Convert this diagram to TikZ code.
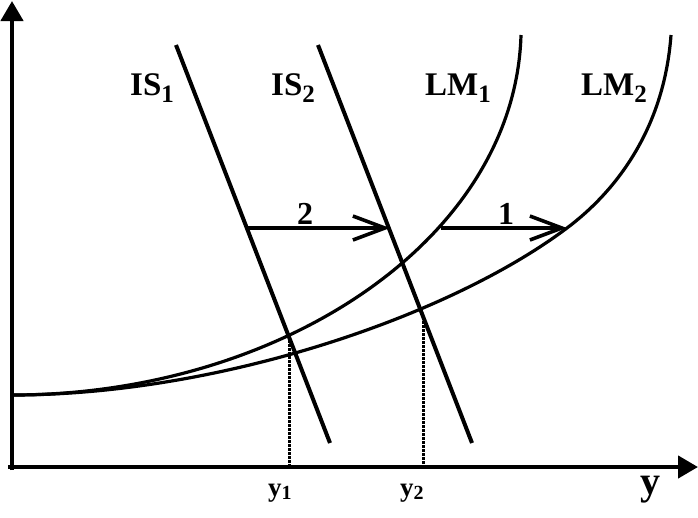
\documentclass[tikz,border=0pt]{standalone}
\usepackage{fontspec}
\setmainfont{Liberation Serif}
\usetikzlibrary{arrows.meta}
\newcommand{\lsub}[1]{\raisebox{-7pt}{\fontsize{25}{25}\selectfont #1}}
\newcommand{\ysub}[1]{\raisebox{-3pt}{\fontsize{20}{20}\selectfont #1}}
\begin{document}
\begin{tikzpicture}[x=1pt,y=-1pt,
  axis/.style={line width=4.4pt,-{Triangle[length=20pt,width=22pt]}},
  curve/.style={line width=3.2pt},
  isline/.style={line width=4pt},
  shiftarrow/.style={line width=3.2pt,-{Straight Barb[length=32pt,width=24pt,line width=3.6pt]}},
  drop/.style={line width=3pt,dash pattern=on 2.5pt off 1.5pt},
  lab/.style={inner sep=0pt,anchor=base west,font=\bfseries\fontsize{33}{33}\selectfont},
  num/.style={inner sep=0pt,anchor=base,font=\bfseries\fontsize{32}{32}\selectfont},
  ylab/.style={inner sep=0pt,anchor=base west,font=\bfseries\fontsize{27}{27}\selectfont},
]
\useasboundingbox (0,0) rectangle (698,517);
% axes
\coordinate (Ytop) at (12,1);
\coordinate (Ybot) at (12,470);
\coordinate (Xbeg) at (8,467);
\coordinate (Xend) at (698,467);
\draw[axis] (Ybot) -- (Ytop);
\draw[axis] (Xbeg) -- (Xend);
% LM curves
\coordinate (L0) at (12,395);
\coordinate (L1top) at (521,35);
\coordinate (L2mid) at (567,228);
\coordinate (L2top) at (671,35);
\draw[curve] (L0) .. controls (280,395) and (515,240) .. (L1top);
\draw[curve] (L0) .. controls (220,395) and (450,316) .. (L2mid)
                  .. controls (615,192) and (664,130) .. (L2top);
% IS lines
\coordinate (IS1a) at (176,45);
\coordinate (IS1b) at (330,443);
\coordinate (IS2a) at (318,45);
\coordinate (IS2b) at (472,443);
\draw[isline] (IS1a) -- (IS1b);
\draw[isline] (IS2a) -- (IS2b);
% shift arrows
\coordinate (A2s) at (247,228);
\coordinate (A2e) at (390,228);
\coordinate (A1s) at (441,228);
\coordinate (A1e) at (567,228);
\draw[shiftarrow] (A2s) -- (A2e);
\draw[shiftarrow] (A1s) -- (A1e);
\node[num] (n2) at (305,224) {2};
\node[num] (n1) at (506,224) {1};
% equilibria and drops
\coordinate (E1) at (289,336);
\coordinate (E2) at (423,317);
\coordinate (F1) at (289,467);
\coordinate (F2) at (423,467);
\draw[drop] (E1) -- (F1);
\draw[drop] (E2) -- (F2);
% labels
\node[lab] (is1) at (130,95) {IS\lsub{1}};
\node[lab] (is2) at (271,95) {IS\lsub{2}};
\node[lab] (lm1) at (425,95) {LM\lsub{1}};
\node[lab] (lm2) at (581,95) {LM\lsub{2}};
\node[ylab] (y1) at (268,496) {y\ysub{1}};
\node[ylab] (y2) at (400,496) {y\ysub{2}};
\node[inner sep=0pt,anchor=base west,font=\bfseries\fontsize{40}{40}\selectfont] (ylab) at (640,494) {y};
\end{tikzpicture}
\end{document}
